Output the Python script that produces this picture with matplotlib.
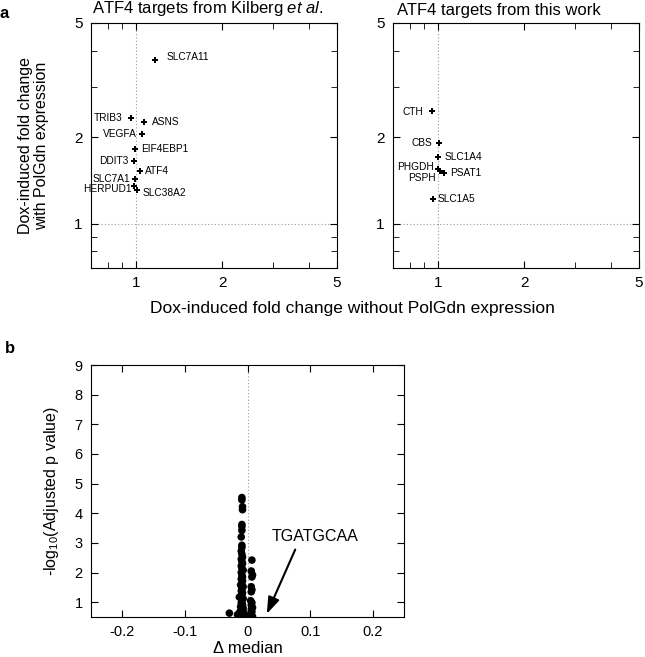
import matplotlib.pyplot as plt
from matplotlib.ticker import FixedLocator, NullFormatter, FixedFormatter

plt.rcParams['font.family'] = ['Liberation Sans', 'DejaVu Sans']
plt.rcParams['mathtext.fontset'] = 'custom'
plt.rcParams['mathtext.rm'] = 'Liberation Sans'
plt.rcParams['mathtext.it'] = 'Liberation Sans:italic'

# panel a, left: ATF4 targets from Kilberg et al.
kilberg_genes = ["SLC7A11", "TRIB3", "ASNS", "VEGFA", "EIF4EBP1", "DDIT3",
                 "ATF4", "SLC7A1", "HERPUD1", "SLC38A2"]
kilberg_without = [1.17, 0.966, 1.066, 1.055, 0.998, 0.987, 1.032, 0.992, 0.987, 1.013]
kilberg_with = [3.72, 2.34, 2.26, 2.06, 1.82, 1.65, 1.52, 1.43, 1.35, 1.31]

# panel a, right: ATF4 targets from this work
work_genes = ["CTH", "CBS", "SLC1A4", "PHGDH", "PSPH", "PSAT1", "SLC1A5"]
work_without = [0.953, 1.014, 1.0, 1.0, 1.019, 1.055, 0.966]
work_with = [2.47, 1.91, 1.70, 1.555, 1.52, 1.50, 1.22]

# panel b: motif volcano
motif_dmedian = [
    -0.009, -0.009, -0.008, -0.008, -0.009, -0.009, -0.009, -0.010, -0.009, -0.009,
    -0.010, -0.009, -0.008, -0.010, -0.009, -0.008, -0.010, -0.009, -0.007, -0.010,
    -0.009, -0.008, -0.010, -0.008, -0.009, -0.011, -0.007, -0.009, -0.010, -0.008,
    -0.009, -0.013, -0.007, -0.009, -0.010, -0.008, -0.011, -0.007, -0.009, -0.012,
    -0.006, -0.010, -0.014, -0.005, -0.008, -0.011, -0.016,
    0.007, 0.006, 0.008, 0.007, 0.006, 0.007, 0.006, 0.005, 0.007, 0.006,
    0.008, 0.006, 0.007, 0.005, 0.006, 0.008,
    -0.029,
]
motif_logp = [
    4.53, 4.45, 4.22, 4.12, 3.62, 3.55, 3.42, 3.20, 2.92, 2.85,
    2.72, 2.62, 2.52, 2.45, 2.38, 2.30, 2.22, 2.15, 2.08, 2.00,
    1.92, 1.85, 1.78, 1.72, 1.65, 1.58, 1.52, 1.45, 1.38, 1.32,
    1.25, 1.17, 1.12, 1.05, 0.98, 0.92, 0.85, 0.80, 0.74, 0.68,
    0.65, 0.60, 0.57, 0.56, 0.53, 0.52, 0.58,
    2.42, 2.05, 1.92, 1.85, 1.52, 1.42, 1.35, 1.05, 0.98, 0.90,
    0.82, 0.75, 0.68, 0.60, 0.55, 0.52,
    0.63,
]

# label side and offset (points) for each gene
kilberg_offsets = [(8, 2), (-6, 0), (6, 0), (-4, 0), (4, 0), (-4, 0),
                   (4, 0), (-3, 0), (-2, -2), (4, -2)]
work_offsets = [(-6, -1), (-5, 0), (5, 0), (-3, 1), (-3, -5), (4, 0), (3, 0)]

fig = plt.figure(figsize=(6.45, 6.57), dpi=100)
ax1 = fig.add_axes([0.1411, 0.592, 0.3814, 0.373])
ax2 = fig.add_axes([0.6093, 0.592, 0.3814, 0.373])
ax3 = fig.add_axes([0.1411, 0.0609, 0.4853, 0.3835])


def style_log(ax):
    ax.set_xscale("log")
    ax.set_yscale("log")
    ax.set_xlim(0.7, 5)
    ax.set_ylim(0.7, 5)
    for axis in (ax.xaxis, ax.yaxis):
        axis.set_major_locator(FixedLocator([1, 2, 5]))
        axis.set_major_formatter(FixedFormatter(["1", "2", "5"]))
        axis.set_minor_locator(FixedLocator([0.8, 0.9, 3, 4]))
        axis.set_minor_formatter(NullFormatter())
    ax.tick_params(which="both", direction="in", top=True, right=True, labelsize=11)
    ax.tick_params(which="major", length=5, pad=6)
    ax.tick_params(which="minor", length=4)
    ax.axvline(1, color="#999999", lw=0.8, ls=(0, (1, 2)), zorder=0)
    ax.axhline(1, color="#999999", lw=0.8, ls=(0, (1, 2)), zorder=0)


def draw_genes(ax, genes, xs, ys, offsets):
    ax.plot(xs, ys, "P", color="black", markersize=5, markeredgewidth=0)
    for g, x, y, off in zip(genes, xs, ys, offsets):
        ha = "left" if off[0] > 0 else "right"
        ax.annotate(g, (x, y), xytext=off, textcoords="offset points",
                    ha=ha, va="center", fontsize=7.3)


style_log(ax1)
style_log(ax2)
draw_genes(ax1, kilberg_genes, kilberg_without, kilberg_with, kilberg_offsets)
draw_genes(ax2, work_genes, work_without, work_with, work_offsets)

ax1.text(0.475, 1.02, "ATF4 targets from Kilberg $\\it{et}$ $\\it{al.}$", transform=ax1.transAxes,
         ha="center", va="bottom", fontsize=12)
ax2.text(0.431, 1.02, "ATF4 targets from this work", transform=ax2.transAxes,
         ha="center", va="bottom", fontsize=12)
ax1.set_ylabel("Dox-induced fold change\nwith PolGdn expression", fontsize=11.5,
               labelpad=18, linespacing=1.1)
fig.text(0.546, 0.531, "Dox-induced fold change without PolGdn expression",
         ha="center", va="center", fontsize=12.5)

# panel b
ax3.scatter(motif_dmedian, motif_logp, s=30, color="black", edgecolors="none", zorder=3)
ax3.set_xlim(-0.25, 0.25)
ax3.set_ylim(0.5, 9)
ax3.set_xticks([-0.2, -0.1, 0, 0.1, 0.2])
ax3.set_xticklabels(["-0.2", "-0.1", "0", "0.1", "0.2"])
ax3.set_yticks(range(1, 10))
ax3.tick_params(direction="in", top=True, right=True, labelsize=10.5, length=5, pad=6)
ax3.axvline(0, color="#999999", lw=0.8, ls=(0, (1, 2)), zorder=0)
ax3.set_xlabel("\u0394 median", fontsize=12, labelpad=1)
ax3.set_ylabel("-log$_{10}$(Adjusted p value)", fontsize=11.5, labelpad=10)
ax3.annotate("", xy=(0.029, 0.52), xytext=(0.078, 2.86),
             arrowprops=dict(arrowstyle="-|>,head_length=1.0,head_width=0.35",
                             color="black", lw=1.5))
ax3.text(0.038, 3.2, "TGATGCAA", ha="left", va="center", fontsize=11.5)

fig.text(0.0, 0.98, "a", fontsize=12, fontweight="bold", va="center")
fig.text(0.008, 0.47, "b", fontsize=12, fontweight="bold", va="center")

fig.savefig("out.png", dpi=100)
